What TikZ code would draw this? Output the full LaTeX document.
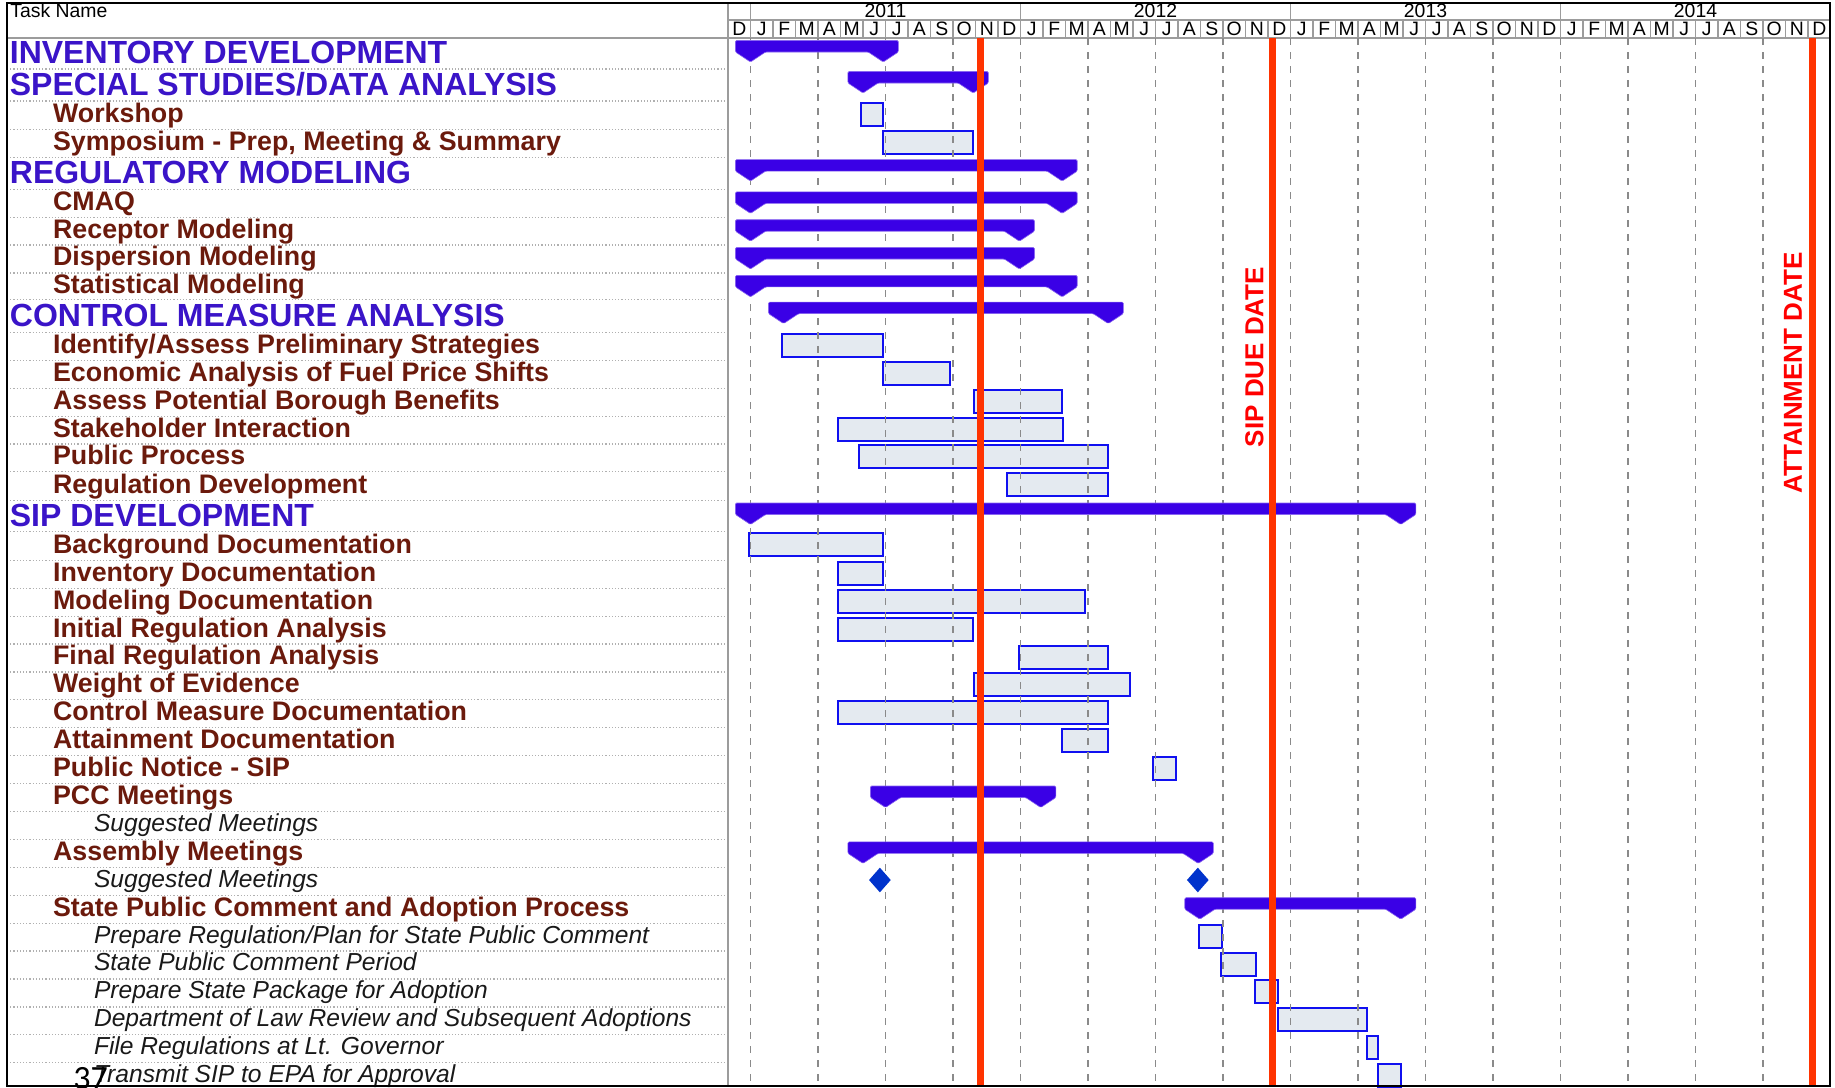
\documentclass[tikz,border=0pt]{standalone}
\usepackage{fontspec}
\setmainfont{Liberation Sans}
\newfontfamily\pagefont{Carlito}
\usepackage{xcolor}
\usepackage{tikz}
\usetikzlibrary{shapes.geometric}
\definecolor{headblue}{HTML}{3A14C8}
\definecolor{taskbrown}{HTML}{6B1A0C}
\definecolor{sumblue}{HTML}{3A00E6}
\definecolor{boxfill}{HTML}{E4EAF0}
\definecolor{boxline}{HTML}{1010F0}
\definecolor{milestone}{HTML}{0033CC}
\definecolor{deadline}{HTML}{FF3300}
\definecolor{gridgray}{HTML}{8A8A8A}
\definecolor{rulegray}{HTML}{9C9C9C}
\tikzset{
  lvlone/.style={anchor=base west, inner sep=0pt, yshift=-5pt,
    text=headblue, font=\fontsize{16}{18}\selectfont\bfseries},
  lvltwo/.style={anchor=base west, inner sep=0pt, yshift=-3.5pt,
    text=taskbrown, font=\fontsize{13.4}{15}\selectfont\bfseries},
  lvlthree/.style={anchor=base west, inner sep=0pt, yshift=-3pt,
    text=black!90, font=\fontsize{12.3}{14}\selectfont\itshape},
  hdr/.style={inner sep=0pt, font=\fontsize{9.7}{11}\selectfont},
  gridrule/.style={rulegray, line width=0.6pt},
  rowrule/.style={rulegray!80, line width=0.6pt, densely dotted},
  taskbar/.style={draw=boxline, fill=boxfill, line width=1pt},
  sumbar/.style={fill=sumblue, draw=sumblue!60!white, line width=0.3pt,
    rounded corners=0.6pt},
  quarter/.style={gridgray, line width=0.8pt, dash pattern=on 3.5pt off 3.5pt},
  dueline/.style={deadline, line width=3.5pt},
  duelabel/.style={rotate=90, inner sep=0pt, text=red,
    font=\fontsize{13}{15}\selectfont\bfseries},
  milestonemark/.style={diamond, fill=milestone, inner sep=0pt,
    minimum width=11pt, minimum height=12.5pt},
}
% summary bar: row top, first month, last month
\newcommand{\sumtask}[3]{%
  \path[sumbar] ({#2-0.67},{#1+2.5}) -- ({#3+0.67},{#1+2.5})
    -- ({#3+0.67},{#1+14}) -- (#3,{#1+24}) -- ({#3-0.67},{#1+14})
    -- ({#2+0.67},{#1+14}) -- (#2,{#1+24}) -- ({#2-0.67},{#1+14}) -- cycle;}

\begin{document}
\begin{tikzpicture}[x=0.5pt, y=-0.5pt]
  \useasboundingbox (0,0) rectangle (1835,1087);

  % header
  \node[hdr, anchor=base west] (taskhdr) at (10,17) {Task Name};
  \draw[gridrule] (728,20) -- (1830,20);
  \foreach \yr [count=\j from 0] in {2011,2012,2013,2014} {
    \draw[gridrule] ({750.5+270*\j},3) -- ({750.5+270*\j},20);
    \node[hdr, anchor=base] (yr\yr) at ({885.5+270*\j},17) {\yr};
  }
  \foreach \mo [count=\k from 0] in {D,J,F,M,A,M,J,J,A,S,O,N,D,J,F,M,A,M,J,J,A,S,O,N,D,J,F,M,A,M,J,J,A,S,O,N,D,J,F,M,A,M,J,J,A,S,O,N,D} {
    \draw[gridrule] ({728+22.5*\k},20) -- ({728+22.5*\k},38);
    \node[hdr, anchor=base] (mo\k) at ({739.25+22.5*\k},35.5) {\mo};
  }
  \draw[gridrule] (7,38) -- (1830,38);

  % task names
  \foreach \tx/\ytop/\ybot/\lvl/\txt [count=\i] in {
    9.5/38/69/lvlone/{INVENTORY DEVELOPMENT},
    9.5/69/101/lvlone/{SPECIAL STUDIES/DATA ANALYSIS},
    52.7/101/129.3/lvltwo/{Workshop},
    52.7/129.3/157.1/lvltwo/{Symposium - Prep, Meeting \& Summary},
    9.5/157.1/189.4/lvlone/{REGULATORY MODELING},
    52.7/189.4/217.2/lvltwo/{CMAQ},
    52.7/217.2/245/lvltwo/{Receptor Modeling},
    52.7/245/272.9/lvltwo/{Dispersion Modeling},
    52.7/272.9/299.6/lvltwo/{Statistical Modeling},
    9.5/299.6/332.6/lvlone/{CONTROL MEASURE ANALYSIS},
    52.7/332.6/360.4/lvltwo/{Identify/Assess Preliminary Strategies},
    52.7/360.4/388.3/lvltwo/{Economic Analysis of Fuel Price Shifts},
    52.7/388.3/416.1/lvltwo/{Assess Potential Borough Benefits},
    52.7/416.1/443.9/lvltwo/{Stakeholder Interaction},
    52.7/443.9/471.7/lvltwo/{Public Process},
    52.7/471.7/500.5/lvltwo/{Regulation Development},
    9.5/500.5/531.8/lvlone/{SIP DEVELOPMENT},
    52.7/531.8/560.2/lvltwo/{Background Documentation},
    52.7/560.2/588.2/lvltwo/{Inventory Documentation},
    52.7/588.2/616.1/lvltwo/{Modeling Documentation},
    52.7/616.1/644/lvltwo/{Initial Regulation Analysis},
    52.7/644/671.9/lvltwo/{Final Regulation Analysis},
    52.7/671.9/699.8/lvltwo/{Weight of Evidence},
    52.7/699.8/727.7/lvltwo/{Control Measure Documentation},
    52.7/727.7/755.6/lvltwo/{Attainment Documentation},
    52.7/755.6/783.5/lvltwo/{Public Notice - SIP},
    52.7/783.5/811.5/lvltwo/{PCC Meetings},
    93.6/811.5/839.4/lvlthree/{Suggested Meetings},
    52.7/839.4/867.3/lvltwo/{Assembly Meetings},
    93.6/867.3/895.2/lvlthree/{Suggested Meetings},
    52.7/895.2/923.1/lvltwo/{State Public Comment and Adoption Process},
    93.6/923.1/951/lvlthree/{Prepare Regulation/Plan for State Public Comment},
    93.6/951/978.9/lvlthree/{State Public Comment Period},
    93.6/978.9/1006.9/lvlthree/{Prepare State Package for Adoption},
    93.6/1006.9/1034.8/lvlthree/{Department of Law Review and Subsequent Adoptions},
    93.6/1034.8/1062.7/lvlthree/{File Regulations at Lt. Governor},
    93.6/1062.7/1090.6/lvlthree/{Transmit SIP to EPA for Approval}} {
    \node[\lvl] (task\i) at (\tx,{(\ytop+\ybot)/2}) {\txt};
    \draw[rowrule] (7,\ybot) -- (728,\ybot);
  }

  % chart area, x in months from Jan 2011
  \begin{scope}[shift={(750.5,0)}, x=11.25pt]
    \foreach \ytop/\s/\e in {101/4.92/5.9, 129.3/5.9/9.88,
        332.6/1.39/5.9, 360.4/5.9/8.85, 388.3/9.92/13.84, 416.1/3.88/13.88,
        443.9/4.83/15.87, 471.7/11.39/15.9,
        531.8/-0.08/5.87, 560.2/3.88/5.87, 588.2/3.88/14.88, 616.1/3.88/9.88,
        644/11.95/15.87, 671.9/9.92/16.87, 699.8/3.88/15.87, 727.7/13.84/15.9,
        755.6/17.88/18.93,
        923.1/19.93/20.96, 951/20.92/22.45, 978.9/22.41/23.44,
        1006.9/23.44/27.41, 1034.8/27.41/27.91, 1062.7/27.91/28.9}
      \draw[taskbar] (\s,\ytop+1.5) rectangle (\e,\ytop+24.5);

    \foreach \q in {0,3,...,45}
      \draw[quarter] (\q,38) -- (\q,1087);

    \foreach \ytop/\s/\e in {38/0/5.9, 69/5/9.9, 157.1/0/13.85, 189.4/0/13.85,
        217.2/0/11.95, 245/0/11.95, 272.9/0/13.85, 299.6/1.47/15.9,
        500.5/0/28.9, 783.5/6/12.9, 839.4/5/19.9, 895.2/19.97/28.9}
      \sumtask{\ytop}{\s}{\e};

    \node[milestonemark] (meet1) at (5.75,880) {};
    \node[milestonemark] (meet2) at (19.88,880) {};

    % deadlines
    \draw[dueline] (10.24,38) -- (10.24,1087);
    \draw[dueline] (23.18,38) -- (23.18,1087);
    \draw[dueline] (47.18,38) -- (47.18,1087);
    \node[duelabel] (sipdue) at (22.4,357) {SIP DUE DATE};
    \node[duelabel] (attain) at (46.33,373) {ATTAINMENT DATE};
  \end{scope}

  \draw[gridrule, line width=1.2pt] (728,3) -- (728,1086);
  \draw[line width=1.1pt] (7,3) rectangle (1830,1086);
  \node[inner sep=0pt, anchor=base, font=\pagefont\fontsize{17}{20}\selectfont]
    (pagenum) at (90.5,1089) {37};
\end{tikzpicture}
\end{document}
